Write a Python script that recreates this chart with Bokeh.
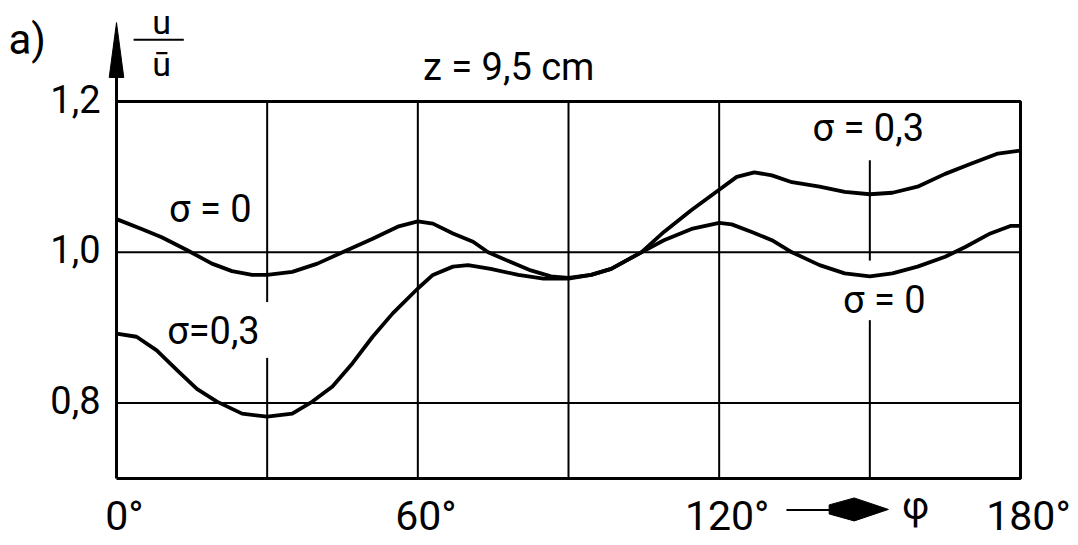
from bokeh.plotting import figure
from bokeh.models import Range1d, Label, LabelSet, ColumnDataSource
from bokeh.core.properties import value
from bokeh.embed import file_html
from bokeh.resources import INLINE

# ---- data ----
# sigma = 0
phi_s0 = [0, 5, 9, 14, 19, 23, 27, 30, 35, 40, 45, 51, 56, 60, 63, 67, 71, 74, 78.5, 82.5,
          86.5, 90, 94.5, 98.5, 104.5, 109, 114.5, 120, 122.5, 126.5, 130.5, 134.5, 140, 145,
          150, 154.5, 159.5, 165, 169, 174, 178, 180]
u_s0 = [1.044, 1.031, 1.020, 1.003, 0.985, 0.975, 0.970, 0.970, 0.974, 0.985, 1.000, 1.018,
        1.034, 1.041, 1.038, 1.025, 1.014, 1.000, 0.987, 0.976, 0.968, 0.966, 0.970, 0.978,
        1.000, 1.016, 1.031, 1.039, 1.037, 1.027, 1.016, 1.000, 0.983, 0.972, 0.968, 0.972,
        0.981, 0.994, 1.007, 1.025, 1.035, 1.035]
# sigma = 0,3
phi_s3 = [0, 4, 8, 12, 16, 20, 25, 30, 35, 39, 43, 47, 51, 55, 60, 63, 67, 70, 74.5, 80,
          85, 90, 94.5, 98.5, 104.5, 109, 114.5, 120, 123.5, 127, 130.5, 134.5, 140, 145,
          150, 154.5, 159.5, 165, 170, 175.5, 180]
u_s3 = [0.892, 0.888, 0.870, 0.844, 0.819, 0.802, 0.786, 0.782, 0.786, 0.802, 0.822, 0.853,
        0.888, 0.919, 0.952, 0.970, 0.981, 0.983, 0.978, 0.970, 0.965, 0.965, 0.970, 0.978,
        1.000, 1.027, 1.056, 1.083, 1.100, 1.106, 1.102, 1.093, 1.087, 1.080, 1.077, 1.079,
        1.087, 1.104, 1.117, 1.131, 1.135]

y_ticks = [0.8, 1.0, 1.2]
y_tick_labels = ["0,8", "1,0", "1,2"]
x_ticks = [0, 60, 120, 180]
x_tick_labels = ["0°", "60°", "120°", "180°"]
grid_phi = [30, 60, 90, 120, 150]
grid_u = [0.8, 1.0]
curve_labels = ["σ = 0", "σ=0,3", "σ = 0,3", "σ = 0"]

# ---- layout / style ----
FONT = "Roboto"
X0, X1 = 0, 180
Y0, Y1 = 0.7, 1.2
W, H = 1078, 545
PX_L, PX_R = 116, 1020     # pixel positions of phi = 0 and 180
PX_T, PX_B = 101, 478      # pixel positions of u = 1.2 and 0.7
sx = (PX_R - PX_L) / (X1 - X0)
sy = (PX_B - PX_T) / (Y1 - Y0)
xr = Range1d(X0 - PX_L / sx, X1 + (W - PX_R) / sx)
yr = Range1d(Y0 - (H - PX_B) / sy, Y1 + PX_T / sy)
gaps = {30: [(0.860, 0.934)], 150: [(0.910, 0.989), (1.122, Y1)]}
BASE_FIX = 0.34            # baseline correction for single Labels, in em


def fix(size_px):
    return BASE_FIX * size_px / sy


p = figure(width=W, height=H, x_range=xr, y_range=yr,
           output_backend="svg", toolbar_location=None,
           x_axis_location=None, y_axis_location=None,
           min_border=0)
p.background_fill_color = "white"
p.border_fill_color = "white"
p.outline_line_color = None
p.grid.visible = False

# horizontal grid
p.multi_line(xs=[[X0, X1] for _ in grid_u], ys=[[g, g] for g in grid_u],
             line_color="black", line_width=2)

# vertical grid lines, broken where labels sit
x0s, y0s, x1s, y1s = [], [], [], []
for g in grid_phi:
    pieces = [(Y0, Y1)]
    for (a, b) in gaps.get(g, []):
        new = []
        for (s, e) in pieces:
            if b <= s or a >= e:
                new.append((s, e))
            else:
                if a > s:
                    new.append((s, a))
                if b < e:
                    new.append((b, e))
        pieces = new
    for (s, e) in pieces:
        x0s.append(g); x1s.append(g); y0s.append(s); y1s.append(e)
p.segment(x0=x0s, y0=y0s, x1=x1s, y1=y1s, line_color="black", line_width=2)

# frame box
p.line([X0, X1, X1, X0, X0], [Y0, Y0, Y1, Y1, Y0], line_color="black", line_width=3)

# y-axis arrow
p.line([X0, X0], [Y1, Y1 + 0.034], line_color="black", line_width=3)
p.patch([X0 - 1.45, X0, X0 + 1.45], [Y1 + 0.0318, Y1 + 0.1046, Y1 + 0.0318],
        fill_color="black", line_color="black", line_width=1)

# curves
p.line(phi_s0, u_s0, line_color="black", line_width=3.8, line_join="round")
p.line(phi_s3, u_s3, line_color="black", line_width=3.8, line_join="round")


def lab(x, y, text, size=38, align="center"):
    p.add_layout(Label(x=x, y=y + fix(size), x_units="data", y_units="data", text=text,
                       text_font=FONT, text_font_size=f"{size}px", text_color="black",
                       text_align=align, text_baseline="alphabetic"))


# y tick labels
YS = 38
ysrc = ColumnDataSource(dict(x=[X0] * len(y_ticks),
                             y=[t - 11 / sy for t in y_ticks],
                             text=y_tick_labels))
p.add_layout(LabelSet(x="x", y="y", text="text", source=ysrc, x_offset=-16,
                      text_font=value(FONT), text_font_size=value(f"{YS}px"),
                      text_color="black", text_align="right", text_baseline="alphabetic"))

# x tick labels
XS = 41
xsrc = ColumnDataSource(dict(x=x_ticks, y=[Y0 - 51 / sy] * len(x_ticks),
                             text=x_tick_labels))
p.add_layout(LabelSet(x="x", y="y", text="text", source=xsrc, x_offset=8,
                      text_font=value(FONT), text_font_size=value(f"{XS}px"),
                      text_color="black", text_align="center", text_baseline="alphabetic"))

# curve labels
lab(18.7, 1.040, curve_labels[0])
lab(19.3, 0.879, curve_labels[1])
lab(149.7, 1.148, curve_labels[2])
lab(152.9, 0.919, curve_labels[3])

# header texts
lab(78.1, 1.228, "z = 9,5 cm")
lab(-21.5, 1.2636, "a)", size=42, align="left")
lab(9.0, 1.2895, "u", size=34)
lab(9.0, 1.234, "ū", size=34)
p.line([3.4, 13.4], [1.282, 1.282], line_color="black", line_width=2)

# phi arrow
p.line([133.4, 142.5], [0.6583, 0.6583], line_color="black", line_width=2)
p.patch([141.9, 146.9, 153.7, 146.9, 141.9],
        [0.6650, 0.6742, 0.6590, 0.6437, 0.6530],
        fill_color="black", line_color="black", line_width=1)
lab(159.1, 0.646, "φ")

open("out.html", "w").write(file_html(p, INLINE))
